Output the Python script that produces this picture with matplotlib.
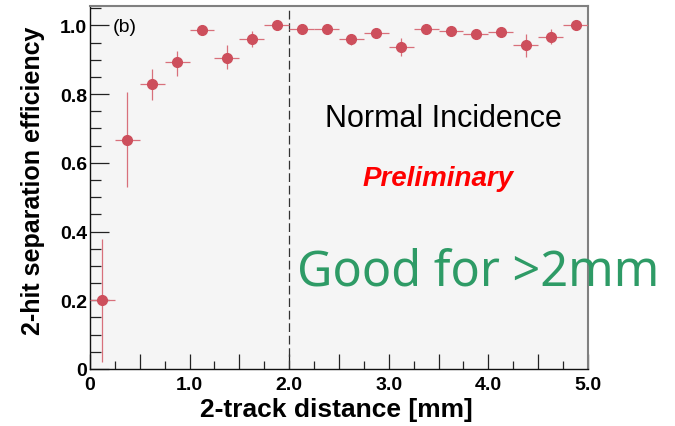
import matplotlib
matplotlib.use("Agg")
import matplotlib.pyplot as plt
from matplotlib.ticker import MultipleLocator

# bin centres [mm] and measured 2-hit separation efficiency
track_dist = [0.125, 0.375, 0.625, 0.875, 1.125, 1.375, 1.625, 1.875, 2.125, 2.375,
              2.625, 2.875, 3.125, 3.375, 3.625, 3.875, 4.125, 4.375, 4.625, 4.875]
efficiency = [0.201, 0.665, 0.828, 0.892, 0.987, 0.905, 0.961, 1.000, 0.988, 0.988,
              0.961, 0.978, 0.937, 0.988, 0.983, 0.975, 0.981, 0.942, 0.967, 1.000]
err_up = [0.177, 0.142, 0.046, 0.033, 0.008, 0.037, 0.024, 0.000, 0.008, 0.008,
          0.015, 0.010, 0.027, 0.008, 0.010, 0.012, 0.010, 0.034, 0.023, 0.000]
err_down = [0.180, 0.135, 0.045, 0.039, 0.012, 0.033, 0.024, 0.005, 0.012, 0.012,
            0.018, 0.014, 0.026, 0.012, 0.013, 0.015, 0.013, 0.034, 0.022, 0.005]
bin_half = 0.125
cut_mm = 2.0

x_ticks = [0, 0.5, 1, 1.5, 2, 2.5, 3, 3.5, 4, 4.5, 5]
x_ticklabels = ["0", "", "1.0", "", "2.0", "", "3.0", "", "4.0", "", "5.0"]
y_ticks = [0, 0.2, 0.4, 0.6, 0.8, 1.0]
y_ticklabels = ["0", "0.2", "0.4", "0.6", "0.8", "1.0"]

plt.rcParams['font.family'] = ['Liberation Sans', 'DejaVu Sans']

fig = plt.figure(figsize=(6.75, 4.27), dpi=100)
ax = fig.add_axes([0.1333, 0.1335, 0.7378, 0.849])
ax.set_facecolor('#f5f5f5')

ax.errorbar(track_dist, efficiency, yerr=[err_down, err_up], xerr=bin_half,
            fmt='o', color='#cd4f5c', ms=7, ecolor='#d8707b', elinewidth=0.9,
            capsize=0, zorder=3)
ax.axvline(cut_mm, color='#333333', lw=0.9, dashes=(7, 3), zorder=2)

ax.set_xlim(0, 5)
ax.set_ylim(0, 1.055)

ax.set_xticks(x_ticks)
ax.set_xticklabels(x_ticklabels)
ax.xaxis.set_minor_locator(MultipleLocator(0.25))
ax.set_yticks(y_ticks)
ax.set_yticklabels(y_ticklabels)
ax.yaxis.set_minor_locator(MultipleLocator(0.05))

ax.tick_params(axis='both', which='both', direction='in', color='#222222', width=0.9)
ax.tick_params(axis='y', which='major', length=14, pad=2, labelsize=14)
ax.tick_params(axis='y', which='minor', length=8)
ax.tick_params(axis='x', which='major', length=11, pad=5, labelsize=14)
ax.tick_params(axis='x', which='minor', length=6)
for lab in ax.get_xticklabels() + ax.get_yticklabels():
    lab.set_fontweight('bold')

for side in ['top', 'right']:
    ax.spines[side].set_color('#808080')
    ax.spines[side].set_linewidth(1.5)
for side in ['left', 'bottom']:
    ax.spines[side].set_color('#111111')
    ax.spines[side].set_linewidth(1.0)

ax.set_xlabel('2-track distance [mm]', fontsize=19, fontweight='bold', va='center')
ax.xaxis.set_label_coords(0.494, -0.11)
ax.set_ylabel('2-hit separation efficiency', fontsize=18, fontweight='bold', va='center')
ax.yaxis.set_label_coords(-0.114, 0.521)

ax.text(0.046, 0.946, '(b)', transform=ax.transAxes, fontsize=14, ha='left', va='center')
fig.text(443 / 675, 1 - 119 / 427, 'Normal Incidence', fontsize=22, ha='center', va='center')
fig.text(438 / 675, 1 - 179 / 427, 'Preliminary', fontsize=20, color='red',
         fontweight='bold', fontstyle='italic', ha='center', va='center')
fig.text(297 / 675, 1 - 272 / 427, 'Good for >2mm', fontsize=35, color='#2e9b66',
         family=['Noto Sans', 'DejaVu Sans'], ha='left', va='center')

fig.savefig('out.png', dpi=100, facecolor='white')
